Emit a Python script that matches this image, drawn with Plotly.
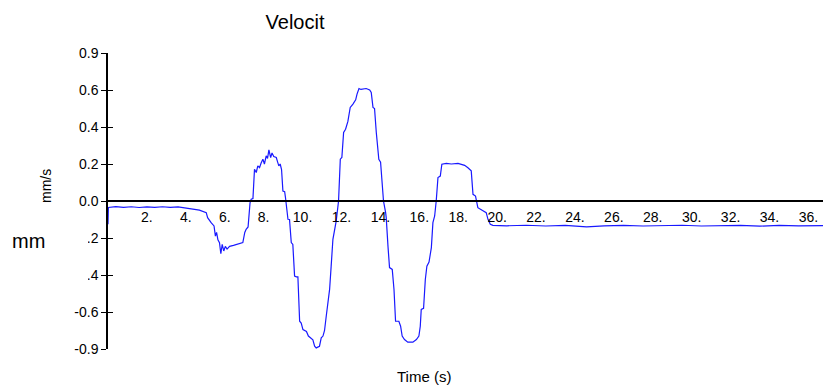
import plotly.graph_objects as go

# Velocity trace (time in s, velocity in mm/s)
time_s = [
    0.0, 0.02, 0.4, 0.8, 1.2, 1.6, 2.0, 2.4, 2.8, 3.2, 3.6, 3.9, 4.3, 4.7, 5.05,
    5.12, 5.3, 5.45, 5.52, 5.58, 5.65, 5.73, 5.8, 5.87, 5.95, 6.03, 6.12, 6.25,
    6.45, 6.7, 6.93, 7.03, 7.1, 7.2, 7.3, 7.36, 7.45, 7.53, 7.62, 7.70, 7.79,
    7.87, 7.96, 8.04, 8.13, 8.2, 8.27, 8.36, 8.43, 8.52, 8.65, 8.72, 8.78, 8.85,
    8.92, 8.99, 9.08, 9.12, 9.16, 9.25, 9.33, 9.42, 9.5, 9.59, 9.68, 9.76, 9.85,
    9.93, 10.02, 10.2, 10.3, 10.45, 10.53, 10.62, 10.7, 10.87, 10.96, 11.05,
    11.13, 11.22, 11.3, 11.39, 11.47, 11.56, 11.73, 11.85, 11.94, 12.02, 12.11,
    12.21, 12.33, 12.45, 12.59, 12.73, 12.8, 12.9, 13.0, 13.27, 13.45, 13.53,
    13.62, 13.7, 13.79, 13.92, 14.01, 14.16, 14.27, 14.3, 14.39, 14.47, 14.61,
    14.7, 14.78, 14.95, 15.04, 15.12, 15.24, 15.41, 15.67, 15.85, 15.98, 16.05,
    16.1, 16.22, 16.31, 16.39, 16.5, 16.62, 16.7, 16.79, 16.87, 16.96, 17.08,
    17.16, 17.39, 17.65, 17.99, 18.15, 18.33, 18.5, 18.67, 18.76, 18.89, 19.01,
    19.15, 19.27, 19.44, 19.53, 19.65, 19.78, 20.5, 21.5, 22.5, 23.5, 24.6,
    25.5, 26.5, 27.5, 28.5, 29.5, 30.5, 31.5, 32.5, 33.5, 34.5, 35.5, 36.75,
]
velocity = [
    -0.126, -0.035, -0.030, -0.034, -0.031, -0.035, -0.032, -0.034, -0.031,
    -0.034, -0.032, -0.036, -0.042, -0.049, -0.063, -0.090, -0.117, -0.135,
    -0.190, -0.170, -0.210, -0.225, -0.285, -0.234, -0.270, -0.245, -0.260,
    -0.245, -0.240, -0.232, -0.225, -0.170, -0.153, -0.140, -0.010, 0.010,
    0.013, 0.172, 0.154, 0.190, 0.180, 0.205, 0.226, 0.200, 0.244, 0.230,
    0.276, 0.235, 0.260, 0.240, 0.235, 0.210, 0.190, 0.200, 0.170, 0.054,
    0.050, 0.020, -0.018, -0.099, -0.100, -0.225, -0.235, -0.406, -0.410,
    -0.410, -0.650, -0.660, -0.695, -0.705, -0.730, -0.740, -0.750, -0.785,
    -0.794, -0.785, -0.740, -0.730, -0.700, -0.620, -0.560, -0.478, -0.352,
    -0.207, -0.108, 0.000, 0.226, 0.235, 0.370, 0.388, 0.430, 0.506, 0.524,
    0.547, 0.578, 0.608, 0.603, 0.608, 0.600, 0.587, 0.506, 0.500, 0.370,
    0.226, 0.210, 0.000, -0.063, -0.090, -0.244, -0.360, -0.370, -0.478,
    -0.650, -0.650, -0.677, -0.730, -0.749, -0.763, -0.763, -0.749, -0.730,
    -0.677, -0.586, -0.580, -0.424, -0.352, -0.330, -0.252, -0.117, -0.081,
    0.000, 0.127, 0.135, 0.199, 0.203, 0.200, 0.203, 0.198, 0.193, 0.180,
    0.163, 0.036, 0.027, -0.036, -0.045, -0.054, -0.063, -0.099, -0.126,
    -0.132, -0.134, -0.131, -0.135, -0.132, -0.140, -0.134, -0.132, -0.135,
    -0.133, -0.131, -0.135, -0.133, -0.132, -0.136, -0.132, -0.134, -0.133,
]

x_tick_vals = list(range(2, 37, 2))
x_tick_text = [f"{v}." for v in x_tick_vals]
y_tick_vals = [0.8, 0.6, 0.4, 0.2, 0.0, -0.2, -0.4, -0.6, -0.8]
y_tick_text = ["0.9", "0.6", "0.4", "0.2", "0.0", "-0.2", "-0.4", "-0.6", "-0.9"]

W, H = 823, 385
ML, MR, MT, MB = 108, 0, 53, 36
PW, PH = W - ML - MR, H - MT - MB
FONT = "Liberation Sans, Arial, sans-serif"


def px_x(p):
    return (p - ML) / PW


def px_y(p):
    return (H - MB - p) / PH


fig = go.Figure()
fig.add_trace(go.Scatter(
    x=time_s, y=velocity, mode="lines",
    line=dict(color="rgb(25,25,255)", width=1.2),
    hoverinfo="skip", showlegend=False,
))
# companion axis carrying the inner half of the y tick marks
fig.add_trace(go.Scatter(
    x=[0], y=[0], yaxis="y2", mode="markers",
    marker=dict(opacity=0), hoverinfo="skip", showlegend=False,
))

fig.update_layout(
    width=W, height=H,
    margin=dict(l=ML, r=MR, t=MT, b=MB),
    paper_bgcolor="white", plot_bgcolor="white",
    font=dict(family=FONT, color="black", size=14),
    xaxis=dict(
        range=[0, 36.75], anchor="free", position=0.5,
        showline=True, linecolor="black", linewidth=1.5,
        showgrid=False, zeroline=False, ticks="",
        tickvals=x_tick_vals, ticktext=x_tick_text,
        tickfont=dict(size=14), ticklabelstandoff=3,
    ),
    yaxis=dict(
        range=[-0.8, 0.8], showline=True, linecolor="black", linewidth=1.5,
        showgrid=False, zeroline=False,
        ticks="outside", ticklen=5, tickwidth=1.2, tickcolor="black",
        tickvals=y_tick_vals, ticktext=y_tick_text, tickfont=dict(size=14),
    ),
    yaxis2=dict(
        range=[-0.8, 0.8], overlaying="y", side="left", anchor="x",
        showline=False, showgrid=False, zeroline=False,
        ticks="inside", ticklen=5, tickwidth=1.2, tickcolor="black",
        tickvals=y_tick_vals, showticklabels=False,
    ),
    title=dict(
        text="Velocit", font=dict(size=20, family=FONT),
        xref="container", x=295 / W, xanchor="center",
        yref="container", y=1 - 22 / H, yanchor="middle",
    ),
)

# blank panel behind the "mm" unit label
fig.add_shape(
    type="rect", xref="paper", yref="paper",
    x0=px_x(0), x1=px_x(88), y0=px_y(292), y1=px_y(220),
    fillcolor="white", line=dict(width=0), layer="above",
)

fig.add_annotation(
    text="mm", xref="paper", yref="paper", x=px_x(10), y=px_y(241),
    xanchor="left", yanchor="middle", showarrow=False,
    font=dict(size=20, family=FONT),
)
fig.add_annotation(
    text="mm/s", xref="paper", yref="paper", x=px_x(46), y=px_y(186),
    xanchor="center", yanchor="middle", showarrow=False, textangle=-90,
    font=dict(size=14, family=FONT),
)
fig.add_annotation(
    text="Time (s)", xref="paper", yref="paper", x=px_x(424), y=px_y(376),
    xanchor="center", yanchor="middle", showarrow=False,
    font=dict(size=15, family=FONT),
)

fig.write_html("out.html")
